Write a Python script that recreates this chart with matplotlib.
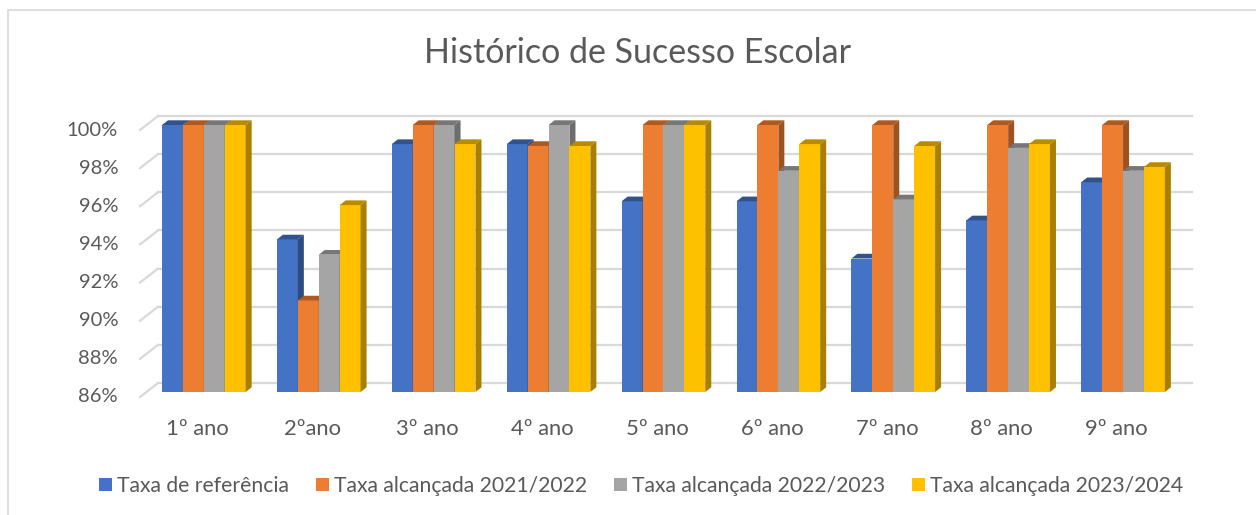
import numpy as np
import matplotlib
matplotlib.use("Agg")
import matplotlib.pyplot as plt
from matplotlib.patches import Polygon, Patch, Rectangle
from matplotlib.transforms import ScaledTranslation

# school years and success rates (%)
anos = ["1º ano", "2ºano", "3º ano", "4º ano", "5º ano", "6º ano", "7º ano", "8º ano", "9º ano"]
series_names = ["Taxa de referência", "Taxa alcançada 2021/2022",
                "Taxa alcançada 2022/2023", "Taxa alcançada 2023/2024"]
taxa_ref = [100, 94, 99, 99, 96, 96, 93, 95, 97]
taxa_2122 = [100, 90.8, 100, 98.9, 100, 100, 100, 100, 100]
taxa_2223 = [100, 93.2, 100, 100, 100, 97.6, 96.1, 98.8, 97.6]
taxa_2324 = [100, 95.8, 99, 98.9, 100, 99, 98.9, 99, 97.8]
y_ticks = [86, 88, 90, 92, 94, 96, 98, 100]

colors = ["#4472C4", "#ED7D31", "#A5A5A5", "#FFC000"]
TEXT = "#595959"
GRID = "#D9D9D9"
FONT = "Lato"

W, H = 1256, 515
fig = plt.figure(figsize=(W / 100, H / 100), dpi=100)
fig.patch.set_facecolor("white")

# chart border
fig.add_artist(Rectangle((8 / W, -0.1), 1.2, 1.1 - 10 / H, transform=fig.transFigure,
                         fill=False, edgecolor=GRID, lw=1.2))

# axes placed on the bars' front plane (pixels from top-left)
left, right, top, bottom = 146.4, 1180.5, 125, 392
ax = fig.add_axes([left / W, (H - bottom) / H, (right - left) / W, (bottom - top) / H])
ax.set_xlim(-0.5, len(anos) - 0.5)
ax.set_ylim(86, 100)
ax.axis("off")

# pixel -> data unit factors for the oblique depth effect
ux = ax.bbox.width / (len(anos))
uy = ax.bbox.height / 14.0

def px(dx, dy):
    return dx / ux, dy / uy

back = px(11.6, 9.0)      # back wall relative to the bar front plane
front = px(-6.4, -5.0)    # floor front edge
depth = px(6.0, 4.7)      # bar depth

# back-wall gridlines with stubs on the left side wall
x0, x1 = ax.get_xlim()
for v in y_ticks:
    ax.plot([x0 + back[0], x1 + back[0]], [v + back[1], v + back[1]],
            color=GRID, lw=1.6, clip_on=False, zorder=0)
    ax.plot([x0 + front[0], x0 + back[0]], [v + front[1], v + back[1]],
            color=GRID, lw=1.6, clip_on=False, zorder=0)
    ax.text(x0 + front[0], v + front[1], f"{v}%", ha="right", va="center",
            color=TEXT, fontsize=14.5, family=FONT,
            transform=ax.transData + ScaledTranslation(-22 / 100, 0, fig.dpi_scale_trans))


def shade(c, f):
    rgb = np.array(matplotlib.colors.to_rgb(c))
    return tuple(rgb * f)


all_series = [taxa_ref, taxa_2122, taxa_2223, taxa_2324]
bw = 0.182
base = 86
dx, dy = depth
for i in range(len(anos)):
    for k, vals in enumerate(all_series):
        v = vals[i]
        xl = i - 2 * bw + k * bw
        xr = xl + bw
        c = colors[k]
        ax.bar(xl, v - base, width=bw, bottom=base, align="edge", color=c,
               edgecolor="none", clip_on=False, zorder=2)
        ax.add_patch(Polygon([(xl, v), (xr, v), (xr + dx, v + dy), (xl + dx, v + dy)],
                             closed=True, facecolor=shade(c, 0.72), edgecolor="none",
                             clip_on=False, zorder=2))
        ax.add_patch(Polygon([(xr, base), (xr + dx, base + dy), (xr + dx, v + dy), (xr, v)],
                             closed=True, facecolor=shade(c, 0.66), edgecolor="none",
                             clip_on=False, zorder=2))
    ax.text(i + front[0], base + front[1], anos[i], ha="center", va="top",
            color=TEXT, fontsize=15.8, family=FONT,
            transform=ax.transData + ScaledTranslation(0, -22 / 100, fig.dpi_scale_trans))

fig.text(637 / W, 1 - 53 / H, "Histórico de Sucesso Escolar", ha="center", va="center",
         color=TEXT, fontsize=24.5, family=FONT)

handles = [Patch(facecolor=c, edgecolor="none") for c in colors]
fig.legend(handles, series_names, loc="center", bbox_to_anchor=(641 / W, 1 - 486 / H),
           ncol=4, frameon=False, handlelength=0.62, handleheight=0.62, handletextpad=0.25,
           columnspacing=1.25, prop={"family": FONT, "size": 15.2}, labelcolor=TEXT)

fig.savefig("out.png", dpi=100, facecolor="white")
